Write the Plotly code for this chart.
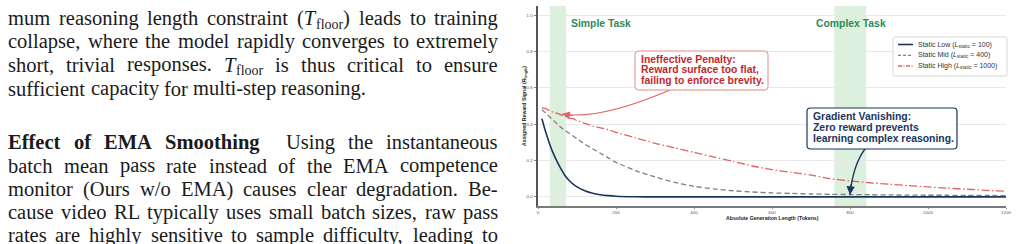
import re
import plotly.graph_objects as go

# ---------------- data ----------------
tokens = [10, 20, 30, 40, 50, 60, 70, 80, 90, 100, 120, 140, 160, 180, 200,
          250, 300, 350, 400, 450, 500, 550, 600, 650, 700, 750, 800, 850,
          900, 950, 1000, 1050, 1100, 1150, 1200]
static_low = [0.43, 0.355, 0.29, 0.235, 0.19, 0.15, 0.115, 0.09, 0.07, 0.055,
              0.034, 0.02, 0.012, 0.007, 0.004,
              0.001, 0.0, 0.0, 0.0, 0.0, 0.0, 0.0, 0.0, 0.0, 0.0, 0.0, 0.0, 0.0,
              0.0, 0.0, 0.0, 0.0, 0.0, 0.0, 0.0]
static_mid = [0.48, 0.46, 0.44, 0.42, 0.40, 0.38, 0.365, 0.35, 0.335, 0.32,
              0.29, 0.265, 0.24, 0.215, 0.19,
              0.145, 0.11, 0.08, 0.058, 0.044, 0.034, 0.027, 0.022, 0.019, 0.016,
              0.014, 0.013, 0.012, 0.011, 0.010, 0.009, 0.009, 0.008, 0.008, 0.007]
static_high = [0.49, 0.485, 0.475, 0.465, 0.46, 0.45, 0.445, 0.435, 0.43, 0.42,
               0.405, 0.39, 0.38, 0.37, 0.355,
               0.325, 0.295, 0.27, 0.245, 0.22, 0.195, 0.17, 0.15, 0.135, 0.12,
               0.10, 0.088, 0.078, 0.07, 0.062, 0.055, 0.048, 0.042, 0.036, 0.031]
series_names = ["Static Low (<i>L</i><sub>static</sub> = 100)",
                "Static Mid (<i>L</i><sub>static</sub> = 400)",
                "Static High (<i>L</i><sub>static</sub> = 1000)"]
x_ticks = [0, 200, 400, 600, 800, 1000, 1200]
y_ticks = [0.0, 0.2, 0.4, 0.6, 0.8, 1.0]
simple_band = [30, 72]
complex_band = [760, 842]
penalty_target = [61.5, 0.456]
vanish_target = [800, 0.012]

task_labels = ["Simple Task", "Complex Task"]
penalty_lines = ["Ineffective Penalty:", "Reward surface too flat,", "failing to enforce brevity."]
vanish_lines = ["Gradient Vanishing:", "Zero reward prevents", "learning complex reasoning."]

para_lines = [
    "mum reasoning length constraint (<i>T</i><sub>floor</sub>) leads to training",
    "collapse, where the model rapidly converges to extremely",
    "short, trivial responses. <i>T</i><sub>floor</sub> is thus critical to ensure",
    "sufficient capacity for multi-step reasoning.",
    "<b>Effect</b> <b>of</b> <b>EMA</b> <b>Smoothing</b> Using the instantaneous",
    "batch mean pass rate instead of the EMA competence",
    "monitor (Ours w/o EMA) causes clear degradation. Be-",
    "cause video RL typically uses small batch sizes, raw pass",
    "rates are highly sensitive to sample difficulty, leading to",
]
para_justified = [True, True, True, False, True, True, True, True, True]

# ---------------- styling / geometry ----------------
W, H = 1018, 244
PL, PR, PT, PB = 538, 1006, 6, 206
SERIF = "Liberation Serif, Times New Roman, serif"
SANS = "Liberation Sans, Arial, Helvetica, sans-serif"
NAVY = "#1b365d"
GREY = "#7f7f7f"
RED = "#e06464"
DARKRED = "#c0282d"
GREEN = "#2e8b57"


def pxx(px):
    return (px - PL) / (PR - PL)


def pyy(py):
    return (PB - py) / (PB - PT)


ROMAN = dict(zip("abcdefghijklmnopqrstuvwxyz",
                 [444, 500, 444, 500, 444, 333, 500, 500, 278, 278, 500, 278, 778,
                  500, 500, 500, 500, 333, 389, 278, 500, 500, 722, 500, 500, 444]))
ROMAN.update(zip("ABCDEFGHIJKLMNOPQRSTUVWXYZ",
                 [722, 667, 667, 722, 611, 556, 722, 722, 333, 389, 722, 611, 889,
                  722, 722, 556, 722, 667, 556, 611, 722, 722, 944, 722, 722, 611]))
ROMAN.update({' ': 250, ',': 250, '.': 250, '(': 333, ')': 333, '-': 333, '/': 278, ':': 278})
BOLD = dict(zip("abcdefghijklmnopqrstuvwxyz",
                [500, 556, 444, 556, 444, 333, 500, 556, 278, 333, 556, 278, 833,
                 556, 500, 556, 556, 444, 389, 333, 556, 500, 722, 500, 500, 444]))
BOLD.update(zip("ABCDEFGHIJKLMNOPQRSTUVWXYZ",
                [722, 667, 722, 722, 667, 611, 778, 778, 389, 500, 778, 667, 944,
                 722, 778, 611, 778, 722, 556, 667, 722, 722, 1000, 722, 722, 667]))
ITALIC = {'T': 556}


def measure(word, size):
    w = 0.0
    bold = ital = False
    for part in re.split(r'(<[^>]+>)', word):
        if part.startswith('<'):
            closing = part.startswith('</')
            tag = part.strip('<>/').lower()
            if tag == 'b':
                bold = not closing
            elif tag == 'i':
                ital = not closing
            continue
        for ch in part:
            if ital:
                cw = ITALIC.get(ch, ROMAN.get(ch, 500))
            elif bold:
                cw = BOLD.get(ch, ROMAN.get(ch, 500))
            else:
                cw = ROMAN.get(ch, 500)
            w += cw
    return w * size / 1000.0


def pieces(word, size):
    """split a word into (text, size, baseline_shift) pieces; subscripts become separate pieces"""
    out = []
    for k, part in enumerate(re.split(r'<sub>|</sub>', word)):
        if not part:
            continue
        if k % 2 == 1:
            out.append((part, size * 0.68, 3.8))
        else:
            out.append((part, size, 0.0))
    return out


fig = go.Figure()

styles = [dict(color=NAVY, width=1.6, dash="solid"),
          dict(color=GREY, width=1.3, dash="5px,3px"),
          dict(color=RED, width=1.3, dash="8px,2.5px,1.5px,2.5px")]
for vals, name, st in zip([static_low, static_mid, static_high], series_names, styles):
    fig.add_trace(go.Scatter(x=tokens, y=vals, name=name, mode="lines",
                             line=dict(shape="spline", smoothing=0.6, **st),
                             showlegend=False, hoverinfo="skip"))

shapes = []
for band in (simple_band, complex_band):
    shapes.append(dict(type="rect", xref="x", yref="paper", x0=band[0], x1=band[1],
                       y0=0, y1=1, fillcolor="rgba(120,190,120,0.25)",
                       line=dict(width=0), layer="below"))


def rounded(x0, y0, x1, y1, r):
    # pixel box -> paper path with rounded corners
    rx = r / (PR - PL)
    ry = r / (PB - PT)
    a, b, c, d = pxx(x0), pyy(y1), pxx(x1), pyy(y0)
    return (f"M {a+rx},{b} L {c-rx},{b} Q {c},{b} {c},{b+ry} L {c},{d-ry} "
            f"Q {c},{d} {c-rx},{d} L {a+rx},{d} Q {a},{d} {a},{d-ry} L {a},{b+ry} "
            f"Q {a},{b} {a+rx},{b} Z")


def tok(px):
    return (px - PL) / (PR - PL) * 1200


def val(py):
    return (PB - py) / (PB - PT) * 1.1 - 0.05


# curved arrow shafts (data coordinates)
shapes.append(dict(type="path", xref="x", yref="y",
                   path=f"M {tok(670)},{val(90)} Q {tok(600)},{val(120)} {penalty_target[0]},{penalty_target[1]}",
                   line=dict(color=RED, width=1.2), layer="above"))
shapes.append(dict(type="path", xref="x", yref="y",
                   path=f"M {tok(865)},{val(149)} Q {tok(853)},{val(165)} {vanish_target[0]},{vanish_target[1]}",
                   line=dict(color=NAVY, width=1.3), layer="above"))

# annotation boxes
shapes.append(dict(type="path", xref="paper", yref="paper", path=rounded(635, 51, 768, 90, 3.5),
                   fillcolor="rgba(255,255,255,0.95)", line=dict(color="#e48a8a", width=1), layer="above"))
shapes.append(dict(type="path", xref="paper", yref="paper", path=rounded(807, 108, 957, 149, 3.5),
                   fillcolor="rgba(255,255,255,0.95)", line=dict(color=NAVY, width=1.2), layer="above"))

# legend box and samples
shapes.append(dict(type="path", xref="paper", yref="paper", path=rounded(893, 37, 1007, 76, 2),
                   fillcolor="white", line=dict(color="#cccccc", width=0.8), layer="above"))
legend_rows = [44.5, 55.3, 66.0]
legend_dash = ["solid", "3px,2px", "4px,1.5px,1px,1.5px"]
for st, ry, dsh in zip(styles, legend_rows, legend_dash):
    shapes.append(dict(type="line", xref="paper", yref="paper", x0=pxx(898), x1=pxx(913),
                       y0=pyy(ry), y1=pyy(ry),
                       line=dict(color=st["color"], width=st["width"], dash=dsh),
                       layer="above"))

ann = []
for name, ry in zip(series_names, legend_rows):
    ann.append(dict(text=name, x=pxx(917), y=pyy(ry), xref="paper", yref="paper",
                    xanchor="left", yanchor="middle", showarrow=False, borderpad=0,
                    font=dict(family=SANS, size=7, color="#333")))

# task labels
ann.append(dict(text=f"<b>{task_labels[0]}</b>", x=pxx(570), y=pyy(27.3 - 3.6), xref="paper", yref="paper",
                xanchor="left", yanchor="middle", showarrow=False, borderpad=0,
                font=dict(family=SANS, size=10.4, color=GREEN)))
ann.append(dict(text=f"<b>{task_labels[1]}</b>", x=pxx(850.5), y=pyy(27.3 - 3.6), xref="paper", yref="paper",
                xanchor="center", yanchor="middle", showarrow=False, borderpad=0,
                font=dict(family=SANS, size=10.4, color=GREEN)))

for lines, left, bases, col in ((penalty_lines, 640, [62.7, 73.5, 84.5], DARKRED),
                                (vanish_lines, 812, [120, 131, 142], NAVY)):
    for t, bl in zip(lines, bases):
        ann.append(dict(text=f"<b>{t}</b>", x=pxx(left), y=pyy(bl - 3.6), xref="paper", yref="paper",
                        xanchor="left", yanchor="middle", showarrow=False, borderpad=0,
                        font=dict(family=SANS, size=10.4, color=col)))

# arrow heads
ann.append(dict(text="", x=penalty_target[0], y=penalty_target[1], xref="x", yref="y",
                showarrow=True, ax=12, ay=2, arrowhead=2, arrowsize=1.3, arrowwidth=1.2,
                arrowcolor=RED))
ann.append(dict(text="", x=vanish_target[0], y=vanish_target[1], xref="x", yref="y",
                showarrow=True, ax=1, ay=-12, arrowhead=2, arrowsize=1.3, arrowwidth=1.3,
                arrowcolor=NAVY))

# axis titles
ann.append(dict(text="<b>Absolute Generation Length (Tokens)</b>", x=pxx(772), y=pyy(218),
                xref="paper", yref="paper", xanchor="center", yanchor="middle", showarrow=False,
                borderpad=0, font=dict(family=SANS, size=5.2, color="#222")))
ann.append(dict(text="<b>Assigned Reward Signal (<i>R</i><sub>length</sub>)</b>", x=pxx(524), y=pyy(106),
                xref="paper", yref="paper", xanchor="center", yanchor="middle", showarrow=False,
                textangle=-90, borderpad=0, font=dict(family=SANS, size=5.2, color="#222")))

# paper text (justified, word by word)
TEXT_SIZE = 20.5
LEFT, RIGHT = 7, 497
baselines = [25, 48.3, 71.8, 95.5, 149.3, 172.7, 196, 219, 242.3]
for line, just, bl in zip(para_lines, para_justified, baselines):
    words = line.split(" ")
    word_pieces = [pieces(w, TEXT_SIZE) for w in words]
    widths = [sum(measure(t, s) for t, s, _ in wp) + 0.5 * (len(wp) - 1) for wp in word_pieces]
    weights = []
    for i in range(len(words) - 1):
        if words[i].endswith("</b>") and not words[i + 1].startswith("<b>"):
            weights.append(2.0)
        else:
            weights.append(1.0)
    if just and weights:
        unit = (RIGHT - LEFT - sum(widths)) / sum(weights)
    else:
        unit = 250 * TEXT_SIZE / 1000.0
    x = LEFT
    for i, wp in enumerate(word_pieces):
        px = x
        for t, s, shift in wp:
            ann.append(dict(text=t, x=pxx(px), y=pyy(bl + shift - 0.3375 * s), xref="paper", yref="paper",
                            xanchor="left", yanchor="middle", showarrow=False, borderpad=0,
                            font=dict(family=SERIF, size=s, color="#1a1a1a")))
            px += measure(t, s) + 0.5
        if i < len(weights):
            x += widths[i] + unit * weights[i]

fig.update_layout(
    width=W, height=H, autosize=False,
    margin=dict(l=PL, r=W - PR, t=PT, b=H - PB, pad=0),
    paper_bgcolor="white", plot_bgcolor="white",
    shapes=shapes, annotations=ann, showlegend=False,
    xaxis=dict(range=[0, 1200], tickvals=x_ticks, ticktext=[str(v) for v in x_ticks],
               ticks="outside", ticklen=1, tickwidth=0.8, tickcolor="#888",
               tickfont=dict(family=SANS, size=4.4, color="#555"),
               showgrid=False, zeroline=False, showline=True, linecolor="#7a7a7a", linewidth=2.2),
    yaxis=dict(range=[-0.05, 1.05], tickvals=y_ticks, ticktext=[f"{v:.1f}" for v in y_ticks],
               ticks="outside", ticklen=2.5, tickwidth=0.8, tickcolor="#888",
               tickfont=dict(family=SANS, size=4.4, color="#555"),
               showgrid=True, gridcolor="#e8e8e8", gridwidth=0.8,
               zeroline=False, showline=True, linecolor="#555", linewidth=2),
)

fig.write_html("out.html", config=dict(displayModeBar=False))
